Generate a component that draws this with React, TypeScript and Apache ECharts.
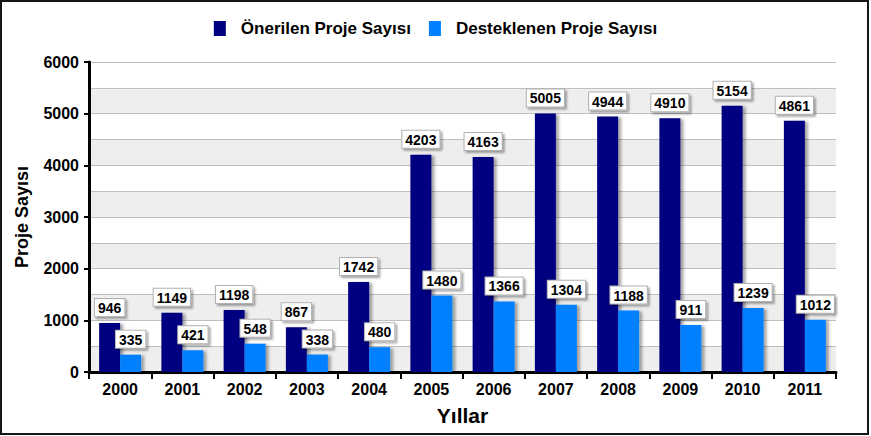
import React, { useEffect, useRef } from "react";
import * as echarts from "echarts";

const years = ["2000", "2001", "2002", "2003", "2004", "2005", "2006", "2007", "2008", "2009", "2010", "2011"];
const onerilen = [946, 1149, 1198, 867, 1742, 4203, 4163, 5005, 4944, 4910, 5154, 4861];
const desteklenen = [335, 421, 548, 338, 480, 1480, 1366, 1304, 1188, 911, 1239, 1012];
const seriesNames = ["Önerilen Proje Sayısı", "Desteklenen Proje Sayısı"];

const FONT = "'Liberation Sans', Arial, sans-serif";

export default function App() {
  const ref = useRef<HTMLDivElement>(null);
  useEffect(() => {
    if (!ref.current) return;
    const chart = echarts.init(ref.current, null, { renderer: "svg" });
    const label = {
      show: true,
      position: "top",
      distance: 7,
      color: "#000",
      fontFamily: FONT,
      fontWeight: "bold",
      fontSize: 14,
      lineHeight: 14,
      backgroundColor: "#fff",
      borderColor: "#b0b0b0",
      borderWidth: 1,
      padding: [2, 3, 1, 3],
      shadowColor: "rgba(0,0,0,0.35)",
      shadowOffsetX: 2,
      shadowOffsetY: 2,
      shadowBlur: 2,
    };
    const barShadow = {
      shadowColor: "rgba(0,0,0,0.35)",
      shadowOffsetX: 3,
      shadowOffsetY: 1,
      shadowBlur: 3,
    };
    chart.setOption({
      animation: false,
      backgroundColor: "#fff",
      textStyle: { fontFamily: FONT },
      graphic: [
        {
          type: "rect",
          shape: { x: 1, y: 1, width: 867, height: 433 },
          style: { fill: "none", stroke: "#151515", lineWidth: 2 },
          z: 100,
        },
      ],
      legend: {
        top: 15,
        left: "center",
        itemWidth: 12,
        itemHeight: 15,
        itemGap: 18,
        icon: "rect",
        textStyle: {
          fontFamily: FONT,
          fontWeight: "bold",
          fontSize: 17,
          color: "#000",
          padding: [0, 0, 0, 10],
        },
        data: seriesNames,
      },
      grid: { left: 89, right: 35, top: 62, bottom: 64 },
      xAxis: {
        type: "category",
        data: years,
        name: "Yıllar",
        nameLocation: "middle",
        nameGap: 33,
        nameTextStyle: { fontFamily: FONT, fontWeight: "bold", fontSize: 21, color: "#000" },
        axisLine: { lineStyle: { color: "#000", width: 3 } },
        axisTick: { show: true, length: 7, lineStyle: { color: "#000", width: 2 } },
        axisLabel: { fontFamily: FONT, fontWeight: "bold", fontSize: 16, color: "#000", margin: 9 },
      },
      yAxis: [
        {
          type: "value",
          min: 0,
          max: 6000,
          interval: 1000,
          name: "Proje Sayısı",
          nameLocation: "middle",
          nameGap: 58,
          nameTextStyle: { fontFamily: FONT, fontWeight: "bold", fontSize: 18, color: "#000" },
          axisLine: { show: true, lineStyle: { color: "#000", width: 3 } },
          axisTick: { show: true, length: 5, lineStyle: { color: "#000", width: 2 } },
          axisLabel: {
            fontFamily: FONT,
            fontWeight: "bold",
            fontSize: 16,
            color: "#000",
            margin: 10,
            formatter: (v: number) => String(v),
          },
          splitLine: { show: false },
          z: 5,
        },
        {
          type: "value",
          min: 0,
          max: 6000,
          interval: 500,
          position: "left",
          axisLine: { show: false },
          axisTick: { show: false },
          axisLabel: { show: false },
          splitLine: { show: true, lineStyle: { color: "#bfbfbf", width: 1 } },
          splitArea: { show: true, areaStyle: { color: ["#eeeeee", "#ffffff"] } },
          z: 0,
        },
      ],
      series: [
        {
          name: seriesNames[0],
          type: "bar",
          data: onerilen,
          yAxisIndex: 0,
          barWidth: 21,
          barGap: "0%",
          itemStyle: { color: "#000080", ...barShadow },
          label,
        },
        {
          name: seriesNames[1],
          type: "bar",
          data: desteklenen,
          yAxisIndex: 0,
          barWidth: 21,
          barGap: "0%",
          itemStyle: { color: "#0080ff", ...barShadow },
          label,
        },
      ],
    });
    return () => chart.dispose();
  }, []);
  return (
    <div
      ref={ref}
      style={{ position: "fixed", left: 0, top: 0, width: 871, height: 436 }}
    />
  );
}
